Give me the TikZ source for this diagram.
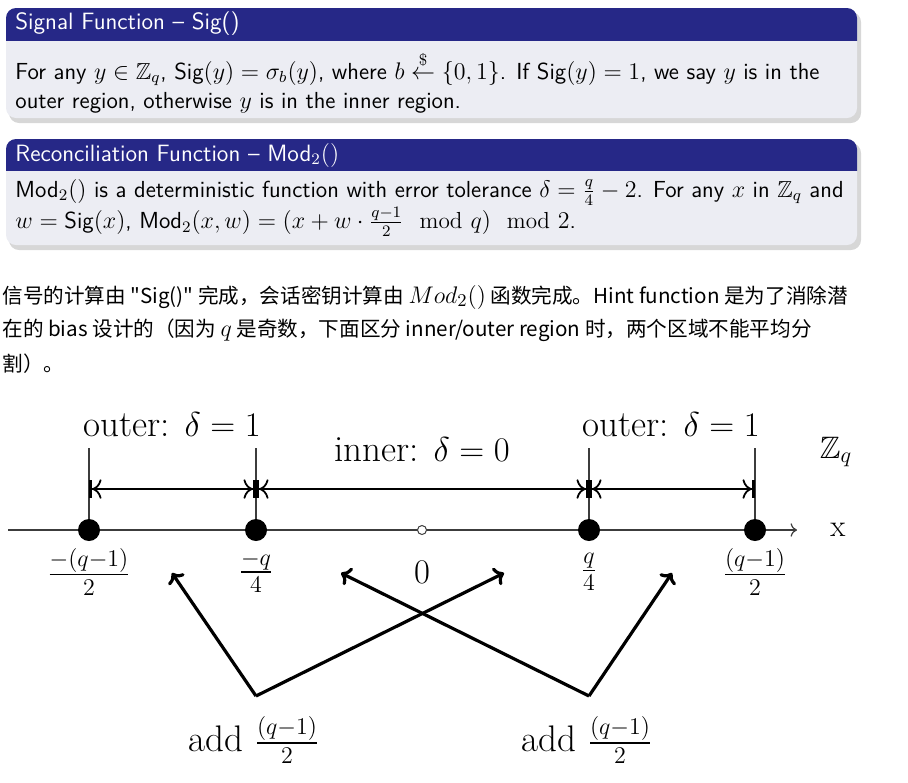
\documentclass[tikz,border=0pt]{standalone}
\usepackage{amsmath,amssymb}
\usepackage{fontspec}
\newfontfamily\cjk{Noto Sans CJK SC}
\usetikzlibrary{positioning,arrows.meta}
\definecolor{blockblue}{RGB}{38,40,135}
\definecolor{blockbody}{RGB}{236,237,243}
\definecolor{axisgray}{RGB}{60,60,60}
\newcommand{\Sig}{\mathsf{Sig}}
\newcommand{\Mod}{\mathsf{Mod}}

\begin{document}
\begin{tikzpicture}[x=0.5pt, y=-0.5pt, node distance=21pt,
blk_shadow/.style={fill=black!45, opacity=0.35, rounded corners=5pt},
blk_body/.style={fill=blockbody, rounded corners=5pt},
head_txt/.style={anchor=west, inner sep=0pt, text=white, font=\sffamily\fontsize{11.8}{13}\selectfont},
body_txt/.style={anchor=west, inner sep=0pt, align=left, font=\sffamily\fontsize{11.6}{14.5}\selectfont},
par_txt/.style={anchor=west, inner sep=0pt, font=\cjk\fontsize{10.3}{12}\selectfont},
dot/.style={circle, fill=black, inner sep=0pt, minimum size=11pt},
zero_dot/.style={circle, draw=axisgray, fill=white, line width=0.5pt, inner sep=0pt, minimum size=4.5pt},
big/.style={font=\fontsize{18.5}{21}\selectfont},
tick/.style={font=\fontsize{17}{20}\selectfont},
axis_lbl/.style={font=\fontsize{15.5}{18}\selectfont},
guide/.style={draw=axisgray, line width=0.6pt},
region/.style={line width=0.9pt, {Bar[width=9pt,line width=1.6pt]To[scale=1.3]}-{To[scale=1.3]Bar[width=9pt,line width=1.6pt]}},
add_arrow/.style={line width=1.6pt, -{To[scale=0.9]}}]
\useasboundingbox (0,0) rectangle (908,782);

    % Blocks
    \fill[blk_shadow] (9,12) rectangle (861,123);
    \fill[blk_body] (6,8) rectangle (857,118);
    \begin{scope}
      \clip (0,0) rectangle (908,40);
      \fill[blockblue, rounded corners=5pt] (6,8) rectangle (857,118);
    \end{scope}
    \fill[blk_shadow] (9,143) rectangle (861,250);
    \fill[blk_body] (6,139) rectangle (857,245);
    \begin{scope}
      \clip (0,130) rectangle (908,170);
      \fill[blockblue, rounded corners=5pt] (6,139) rectangle (857,245);
    \end{scope}

    % Block texts
    \node (sig_head) [head_txt] at (15,24) {Signal Function -- Sig()};
    \node (sig_body) [body_txt] at (15,82) {For any $y \in \mathbb{Z}_q$, $\Sig(y) = \sigma_b(y)$, where $b \overset{\$}{\leftarrow} \{0,1\}$. If $\Sig(y) = 1$, we say $y$ is in the\\
      outer region, otherwise $y$ is in the inner region.};
    \node (mod_head) [head_txt] at (15,155) {Reconciliation Function -- Mod$_2()$};
    \node (mod_body) [body_txt] at (15,208) {Mod$_2()$ is a deterministic function with error tolerance $\delta = \frac{q}{4} - 2$. For any $x$ in $\mathbb{Z}_q$ and\\
      $w = \Sig(x)$, $\Mod_2(x,w) = (x + w \cdot \frac{q-1}{2} \mod{q}) \mod{2}$.};

    % Paragraph
    \node (par1) [par_txt] at (2,297) {信号的计算由 "Sig()" 完成，会话密钥计算由 {\fontsize{13}{15}\selectfont$Mod_2()$} 函数完成。Hint function 是为了消除潜};
    \node (par2) [par_txt] at (2,330) {在的 bias 设计的（因为 {\fontsize{13}{15}\selectfont$q$} 是奇数，下面区分 inner/outer region 时，两个区域不能平均分};
    \node (par3) [par_txt] at (2,364) {割）。};

    % Number line
    \coordinate (ax_s) at (8,530);
    \coordinate (ax_e) at (797,530);
    \draw[axisgray, line width=0.6pt, -{To[scale=1.1]}] (ax_s) -- (ax_e);
    \node (xlbl) [axis_lbl] at (838,530) {x};
    \node (zq) [axis_lbl] at (836,452) {$\mathbb{Z}_q$};

    \node (d1) [dot] at (89,530) {};
    \node (d2) [dot] at (256,530) {};
    \node (z0) [zero_dot] at (422,530) {};
    \node (d3) [dot] at (589,530) {};
    \node (d4) [dot] at (755,530) {};

    \node (l1) [tick, below of=d1] {$\frac{-(q-1)}{2}$};
    \node (l2) [tick, below of=d2] {$\frac{-q}{4}$};
    \node (l0) [big, below of=z0] {$0$};
    \node (l3) [tick, below of=d3] {$\frac{q}{4}$};
    \node (l4) [tick, below of=d4] {$\frac{(q-1)}{2}$};

    % Regions
    \coordinate (t1) at (89,448);
    \coordinate (t2) at (256,448);
    \coordinate (t3) at (589,448);
    \coordinate (t4) at (755,448);
    \coordinate (a1) at (89,489);
    \coordinate (a2) at (256,489);
    \coordinate (a3) at (589,489);
    \coordinate (a4) at (755,489);
    \draw[guide] (d1) -- (t1);
    \draw[guide] (d2) -- (t2);
    \draw[guide] (d3) -- (t3);
    \draw[guide] (d4) -- (t4);
    \draw[region] (a1) -- (a2);
    \draw[region] (a2) -- (a3);
    \draw[region] (a3) -- (a4);
    \node (outer_l) [big] at (172,425) {outer: $\delta = 1$};
    \node (inner) [big] at (422,450) {inner: $\delta = 0$};
    \node (outer_r) [big] at (671,425) {outer: $\delta = 1$};

    % Arrows
    \coordinate (v1) at (256,696);
    \coordinate (v2) at (589,696);
    \coordinate (h1) at (172,573);
    \coordinate (h2) at (504,573);
    \coordinate (h3) at (341,573);
    \coordinate (h4) at (672,573);
    \draw[add_arrow] (v1) -- (h1);
    \draw[add_arrow] (v1) -- (h2);
    \draw[add_arrow] (v2) -- (h3);
    \draw[add_arrow] (v2) -- (h4);
    \node (add_l) [big] at (254,740) {add $\frac{(q-1)}{2}$};
    \node (add_r) [big] at (587,740) {add $\frac{(q-1)}{2}$};

  \end{tikzpicture}
\end{document}
